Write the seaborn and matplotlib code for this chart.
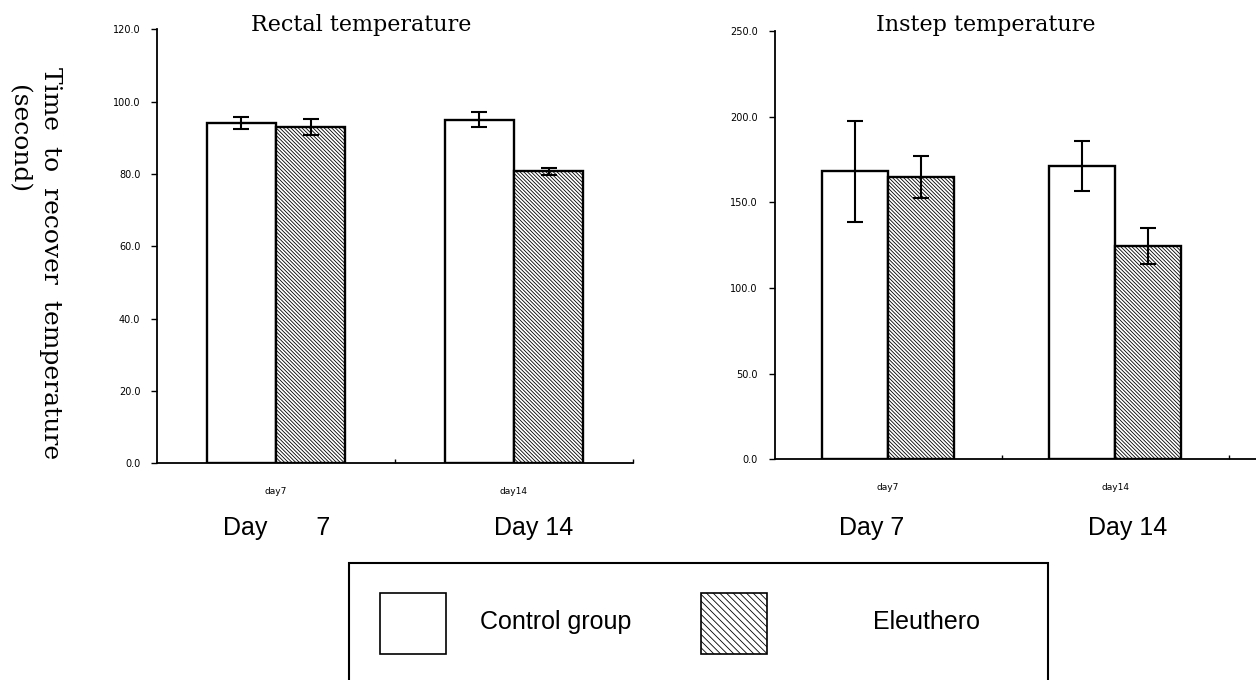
import matplotlib
matplotlib.use("Agg")
import matplotlib.pyplot as plt
from matplotlib.patches import Rectangle
from matplotlib.ticker import FormatStrFormatter
import seaborn as sns
import pandas as pd

# data
days = ["day7", "day14"]
groups = ["Control group", "Eleuthero"]

rectal_control = [94.0, 95.0]
rectal_control_err = [1.7, 2.0]
rectal_eleuthero = [92.9, 80.7]
rectal_eleuthero_err = [2.2, 1.05]

instep_control = [168.1, 171.4]
instep_control_err = [29.6, 14.6]
instep_eleuthero = [164.8, 124.5]
instep_eleuthero_err = [12.4, 10.7]

W, H = 1256, 680

sns.set_theme(style="ticks")
plt.rcParams["font.family"] = ["DejaVu Sans"]
plt.rcParams["hatch.linewidth"] = 0.6
for key in ["text.color", "axes.labelcolor", "xtick.color", "ytick.color"]:
    plt.rcParams[key] = "black"


def fx(px):
    return px / W


def fy(py):
    return 1 - py / H


def draw_panel(ax, ctrl, ctrl_err, eleu, eleu_err, ymax, ystep, xmax):
    df = pd.DataFrame({
        "day": days * 2,
        "group": [groups[0]] * 2 + [groups[1]] * 2,
        "value": ctrl + eleu,
    })
    sns.barplot(data=df, x="day", y="value", hue="group", order=days,
                hue_order=groups, palette=["white", "white"], saturation=1,
                width=0.58, errorbar=None, edgecolor="black", linewidth=1.7,
                legend=False, ax=ax)
    for container, errs, hatch in zip(ax.containers, [ctrl_err, eleu_err],
                                      ["", "\\" * 9]):
        for bar, e in zip(container, errs):
            bar.set_hatch(hatch)
            ax.errorbar(bar.get_x() + bar.get_width() / 2, bar.get_height(),
                        yerr=e, color="black", capsize=5.5, elinewidth=1.5,
                        capthick=1.5, zorder=5)
    ax.set_xlim(-0.5, xmax)
    ax.set_ylim(0, ymax)
    ax.set_yticks(range(0, ymax + 1, ystep))
    ax.yaxis.set_major_formatter(FormatStrFormatter("%.1f"))
    ax.set_xticks([0, 1])
    ax.set_xticklabels(days)
    ax.set_xticks([0.5, 1.5], minor=True)
    ax.tick_params(axis="x", which="major", length=0, pad=17, labelsize=6.5)
    ax.tick_params(axis="x", which="minor", direction="in", length=3,
                   width=1, color="black")
    ax.tick_params(axis="y", direction="out", length=4, width=1,
                   color="black", labelsize=7, pad=8)
    ax.set_xlabel("")
    ax.set_ylabel("")
    sns.despine(ax=ax)
    for s in ["left", "bottom"]:
        ax.spines[s].set_linewidth(1.3)
        ax.spines[s].set_color("black")


fig = plt.figure(figsize=(W / 100, H / 100), dpi=100)
ax1 = fig.add_axes([fx(157), fy(463.3), fx(633 - 157), (463.3 - 29.3) / H])
ax2 = fig.add_axes([fx(774.5), fy(459.3), fx(W - 774.5), (459.3 - 31) / H])

draw_panel(ax1, rectal_control, rectal_control_err, rectal_eleuthero,
           rectal_eleuthero_err, 120, 20, 1.5)
draw_panel(ax2, instep_control, instep_control_err, instep_eleuthero,
           instep_eleuthero_err, 250, 50, 1.621)

serif = ["DejaVu Serif"]
sans = ["Liberation Sans", "DejaVu Sans"]

fig.text(fx(361), fy(25), "Rectal temperature", ha="center", va="center",
         family=serif, fontsize=16)
fig.text(fx(986), fy(25), "Instep temperature", ha="center", va="center",
         family=serif, fontsize=16)

fig.text(fx(50), fy(263), "Time  to  recover  temperature", rotation=-90,
         ha="center", va="center", family=serif, fontsize=18)
fig.text(fx(18), fy(85), "(second)", rotation=-90, ha="center", va="top",
         family=serif, fontsize=18)

for xc, label in [(277, "Day       7"), (534, "Day 14"), (872, "Day 7"),
                  (1128, "Day 14")]:
    fig.text(fx(xc), fy(528), label, ha="center", va="center", family=sans,
             fontsize=18)

# legend box
fig.add_artist(Rectangle((fx(349), fy(700)), fx(1048 - 349), (700 - 563) / H,
                         transform=fig.transFigure, fill=False,
                         edgecolor="black", linewidth=1.5))
fig.add_artist(Rectangle((fx(380), fy(654)), fx(66), 61 / H,
                         transform=fig.transFigure, facecolor="white",
                         edgecolor="black", linewidth=1.2))
fig.add_artist(Rectangle((fx(701), fy(654)), fx(66), 61 / H,
                         transform=fig.transFigure, facecolor="white",
                         edgecolor="black", linewidth=1.2, hatch="\\" * 5))
fig.text(fx(480), fy(622), groups[0], ha="left", va="center", family=sans,
         fontsize=18)
fig.text(fx(873), fy(622), groups[1], ha="left", va="center", family=sans,
         fontsize=18)

fig.savefig("out.png", dpi=100)
